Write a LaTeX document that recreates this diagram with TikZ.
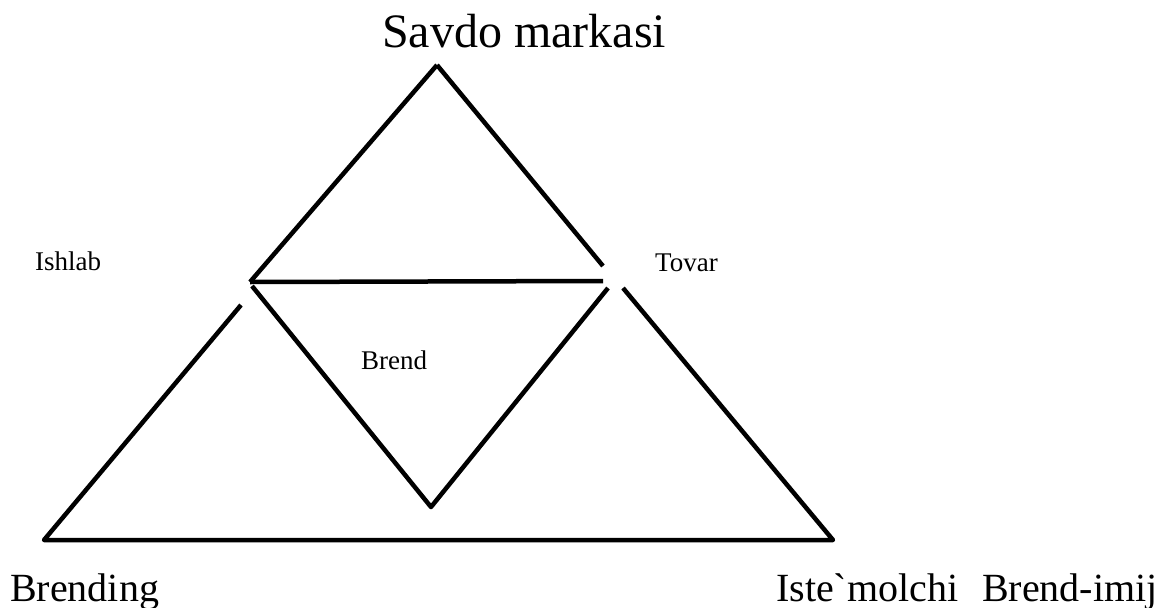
\documentclass[tikz,border=0pt]{standalone}
\usepackage{fontspec}
\setmainfont{Liberation Serif}[Ligatures=TeXOff]
\begin{document}
\begin{tikzpicture}[x=1pt,y=-1pt,
  edge/.style={line width=4.5pt,line join=round},
  lbl/.style={inner sep=0pt,anchor=base west},
  big/.style={font=\fontsize{40}{46}\selectfont},
  small/.style={font=\fontsize{27}{32}\selectfont}]
\useasboundingbox (0,0) rectangle (1168,608);
% corner points
\coordinate (apex) at (437,65);
\coordinate (bl) at (44,540);
\coordinate (br) at (833,540);
\coordinate (ml) at (250,282);
\coordinate (mlb) at (241,305);
\coordinate (mr) at (603,281);
\coordinate (mrt) at (603,266);
\coordinate (mrb) at (623,288);
\coordinate (vl) at (252,286);
\coordinate (vb) at (431,507);
\coordinate (vr) at (608,288);
% outer triangle pieces
\draw[edge] (apex) -- (ml);
\draw[edge] (apex) -- (mrt);
\draw[edge] (mlb) -- (bl) -- (br) -- (mrb);
% middle line
\draw[edge] (ml) -- (mr);
% inner V
\draw[edge] (vl) -- (vb) -- (vr);
% labels
\node[lbl,font=\fontsize{48}{56}\selectfont] (savdo) at (382,47) {Savdo markasi};
\node[lbl,big] (brending) at (10,601) {Brending};
\node[lbl,big] (istemol) at (776,601) {Iste`molchi};
\node[lbl,big] (imij) at (982,601) {Brend-imij};
\node[lbl,small] (ishlab) at (35,270) {Ishlab};
\node[lbl,small] (tovar) at (655,271) {Tovar};
\node[lbl,small] (brend) at (361,369) {Brend};
\end{tikzpicture}
\end{document}
